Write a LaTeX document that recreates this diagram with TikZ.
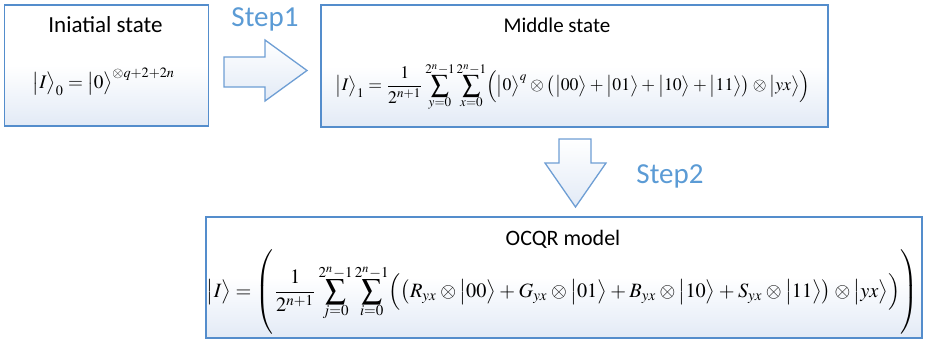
\documentclass[tikz,border=0pt]{standalone}
\usepackage{mathptmx}
\usepackage[no-math]{fontspec}
\setmainfont{Carlito}
\usetikzlibrary{shadings}
\definecolor{boxline}{RGB}{84,141,204}
\definecolor{steptext}{RGB}{91,155,213}
\definecolor{boxfill}{RGB}{226,234,246}
\newcommand\tightlims{\fontdimen9\textfont3=0.3pt \fontdimen10\textfont3=0.3pt
  \fontdimen11\textfont3=0.6pt \fontdimen12\textfont3=2.5pt \fontdimen13\textfont3=0pt
  \medmuskip=3mu plus 1mu \thickmuskip=4mu plus 2mu }
\newcommand\ket[1]{\bigl|#1\bigr\rangle}
\tikzset{
  statebox/.style={draw=boxline, line width=1.6pt, shading=axis, shading angle=135,
    top color=white, bottom color=boxfill, middle color=white, inner sep=0pt},
  bigarrow/.style={draw=boxline!85, line width=1.3pt, shading=axis, shading angle=135,
    top color=white, bottom color=boxfill, line join=miter},
  titletext/.style={font=\fontsize{22}{24}\selectfont, text=black},
  steplabel/.style={font=\fontsize{29}{32}\selectfont, text=steptext},
}
\begin{document}
\begin{tikzpicture}[x=1pt,y=-1pt]
\useasboundingbox (0,0) rectangle (926,341);
% boxes
\node[statebox, minimum width=204pt, minimum height=121pt] (b1) at (106.5,65.5) {};
\node[statebox, minimum width=507pt, minimum height=122pt] (b2) at (574.5,66) {};
\node[statebox, minimum width=716pt, minimum height=121pt] (b3) at (564,277.5) {};
% titles
\node[titletext, font=\fontsize{23}{25}\selectfont] (t1) at (105.5,25) {Iniatial state};
\node[titletext, font=\fontsize{21}{23}\selectfont] (t2) at (557,25) {Middle state};
\node[titletext] (t3) at (563,239) {OCQR model};
% equations
\node (e1) at (104,82) {\resizebox{142pt}{!}{$\displaystyle \ket{I}_0=\ket{0}^{\otimes q+2+2n}$}};
\node (e2) at (573,87) {\resizebox{474pt}{!}{$\displaystyle\tightlims \ket{I}_1=\frac{1}{2^{n+1}}\sum_{y=0}^{2^n-1}\sum_{x=0}^{2^n-1}\Bigl(\ket{0}^{q}\otimes\bigl(\ket{00}+\ket{01}+\ket{10}+\ket{11}\bigr)\otimes\ket{yx}\Bigr)$}};
\node (e3) at (562.5,292) {\resizebox{711pt}{!}{$\displaystyle\tightlims \ket{I}=\left(\vrule height 23pt depth 18pt width 0pt\frac{1}{2^{n+1}}\sum_{j=0}^{2^n-1}\sum_{i=0}^{2^n-1}\Bigl(\bigl(R_{yx}\otimes\ket{00}+G_{yx}\otimes\ket{01}+B_{yx}\otimes\ket{10}+S_{yx}\otimes\ket{11}\bigr)\otimes\ket{yx}\Bigr)\right)$}};
% arrows
\path[bigarrow] (224,57) -- (265,57) -- (265,40) -- (307,70.5) -- (265,101) -- (265,87) -- (224,87) -- cycle;
\path[bigarrow] (559,139) -- (591,139) -- (591,163) -- (606,163) -- (575.5,207) -- (545,163) -- (559,163) -- cycle;
% step labels
\node[steplabel] (s1) at (265,19) {Step1};
\node[steplabel] (s2) at (670,176) {Step2};
\end{tikzpicture}
\end{document}
